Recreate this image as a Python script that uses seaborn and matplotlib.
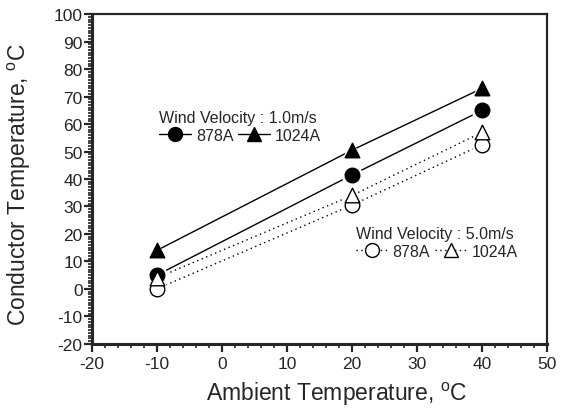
import numpy as np
import pandas as pd
import matplotlib
matplotlib.use("Agg")
import matplotlib.pyplot as plt
from matplotlib.lines import Line2D
from matplotlib.ticker import MultipleLocator
import seaborn as sns

# data
ambient = [-10, 20, 40]
c878_v1 = [5, 41.5, 65]
c1024_v1 = [14, 50.5, 73]
c878_v5 = [0, 30.5, 52.5]
c1024_v5 = [4, 34, 57]

dots = (0, (1, 2.5))
series = [
    (c878_v1, "o", "black", "-"),
    (c1024_v1, "^", "black", "-"),
    (c878_v5, "o", "white", dots),
    (c1024_v5, "^", "white", dots),
]

sns.set_style("ticks")
plt.rcParams['font.family'] = ['Liberation Sans', 'DejaVu Sans']
plt.rcParams['mathtext.fontset'] = 'custom'
plt.rcParams['mathtext.rm'] = 'Liberation Sans'
plt.rcParams['axes.unicode_minus'] = False

fig = plt.figure(figsize=(5.7, 4.1), dpi=100)
ax = fig.add_axes([0.161, 0.159, 0.799, 0.804])

for vals, mk, face, ls in series:
    df = pd.DataFrame({"x": ambient, "y": vals})
    sns.lineplot(data=df, x="x", y="y", ax=ax, color="black", lw=1.0,
                 linestyle=ls, zorder=2)
    # white halo so the line stops short of the marker
    sns.scatterplot(data=df, x="x", y="y", ax=ax, marker=mk, s=230,
                    color="white", edgecolor="none", zorder=3)
    sns.scatterplot(data=df, x="x", y="y", ax=ax, marker=mk, s=110,
                    color=face, edgecolor="black", linewidth=1.0, zorder=4)

ax.set_xlim(-20, 50)
ax.set_ylim(-20, 100)
ax.xaxis.set_major_locator(MultipleLocator(10))
ax.xaxis.set_minor_locator(MultipleLocator(2))
ax.yaxis.set_major_locator(MultipleLocator(10))
ax.yaxis.set_minor_locator(MultipleLocator(1))
ax.tick_params(which="major", direction="out", length=6, width=1.6, labelsize=12.5)
ax.tick_params(axis="y", which="major", pad=0.5)
ax.tick_params(axis="x", which="major", pad=3)
ax.tick_params(which="minor", direction="out", length=3, width=1.2)
for side in ["left", "bottom"]:
    ax.spines[side].set_linewidth(2.2)
for side in ["top", "right"]:
    ax.spines[side].set_linewidth(1.6)

ax.set_xlabel(r"Ambient Temperature, $^{\rm o}$C", fontsize=16.5)
ax.set_ylabel(r"Conductor Temperature, $^{\rm o}$C", fontsize=16.5)
ax.xaxis.set_label_coords(0.538, -0.11)
ax.yaxis.set_label_coords(-0.128, 0.485)

def handle(mk, face, ls):
    return Line2D([], [], color="black", lw=1.0, linestyle=ls, marker=mk,
                  markersize=10, markerfacecolor=face, markeredgecolor="black")

common = dict(loc="upper left", ncol=2, frameon=False, fontsize=11.5,
              title_fontsize=11.5, handlelength=2.0, handletextpad=0.3,
              columnspacing=0.3, borderpad=0, borderaxespad=0,
              alignment="left", labelspacing=0.2)
leg1 = ax.legend([handle("o", "black", "-"), handle("^", "black", "-")],
                 ["878A", "1024A"], title="Wind Velocity : 1.0m/s",
                 bbox_to_anchor=(0.148, 0.71), **common)
ax.add_artist(leg1)
ax.legend([handle("o", "white", dots), handle("^", "white", dots)],
          ["878A", "1024A"], title="Wind Velocity : 5.0m/s",
          bbox_to_anchor=(0.58, 0.358), **common)

fig.savefig("out.png", dpi=100)
